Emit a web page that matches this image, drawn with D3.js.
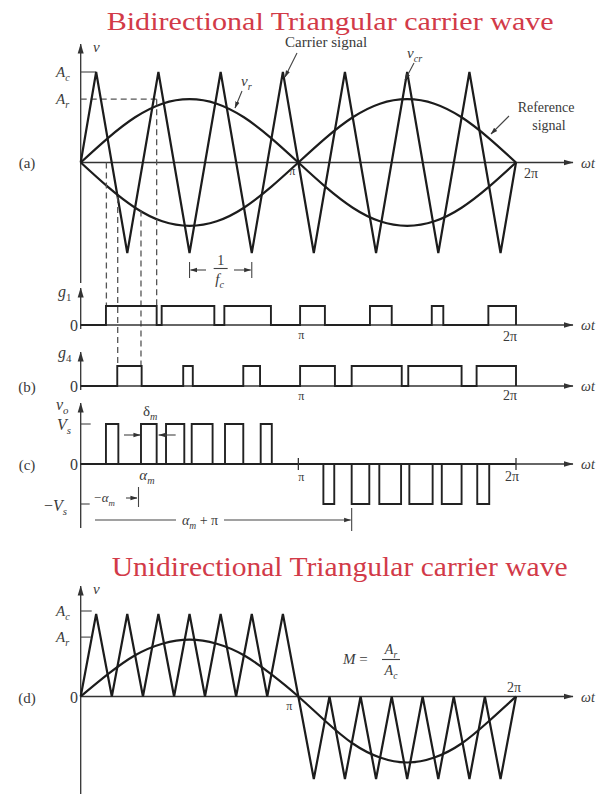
<!DOCTYPE html>
<html>
<head>
<meta charset="utf-8">
<script src="https://cdn.jsdelivr.net/npm/d3@7"></script>
<style>
body { margin: 0; background: #fff; }
text { font-family: "Liberation Serif", "DejaVu Serif", serif; fill: #3a3a3a; }
.title { fill: #d23a48; }
.wave { fill: none; stroke: #1c1c1c; stroke-width: 2.2; stroke-linejoin: miter; }
.pulse { fill: none; stroke: #222; stroke-width: 1.9; }
.axis { stroke: #333; stroke-width: 1.3; fill: none; }
.dash { stroke: #555; stroke-width: 1.3; stroke-dasharray: 6,4; fill: none; }
.thin { stroke: #444; stroke-width: 1.1; fill: none; }
</style>
</head>
<body>
<div id="chart"></div>
<script>
// all positions on the time axis are in units of pi (0 .. 2)
var piTicks = [1, 2];
var piLabels = ["\u03c0", "2\u03c0"];

// bidirectional carrier (vertices), values in units of Ac
var carrierBiT = [0, 0.071, 0.214, 0.357, 0.5, 0.643, 0.786, 0.929, 1.071, 1.214, 1.357, 1.5, 1.643, 1.786, 1.929, 2];
var carrierBiV = [0, 1, -1, 1, -1, 1, -1, 1, -1, 1, -1, 1, -1, 1, -1, 0];

// reference signal samples
var refT = [0, 0.125, 0.25, 0.375, 0.5, 0.625, 0.75, 0.875, 1, 1.125, 1.25, 1.375, 1.5, 1.625, 1.75, 1.875, 2];
var refA = [0, 0.27, 0.5, 0.65, 0.7, 0.65, 0.5, 0.27, 0, -0.27, -0.5, -0.65, -0.7, -0.65, -0.5, -0.27, 0];
var refD = [0, 0.27, 0.5, 0.64, 0.69, 0.64, 0.5, 0.27, 0, -0.3, -0.57, -0.74, -0.8, -0.74, -0.57, -0.3, 0];

// unidirectional carrier (vertices)
var carrierUniT = [0, 0.071, 0.143, 0.214, 0.286, 0.357, 0.429, 0.5, 0.571, 0.643, 0.714, 0.786, 0.857, 0.929, 1,
                   1.071, 1.143, 1.214, 1.286, 1.357, 1.429, 1.5, 1.571, 1.643, 1.714, 1.786, 1.857, 1.929, 2];
var carrierUniV = [0, 1, 0, 1, 0, 1, 0, 1, 0, 1, 0, 1, 0, 1, 0,
                   -1, 0, -1, 0, -1, 0, -1, 0, -1, 0, -1, 0, -1, 0];

// gate signals [start, end]
var g1Pulses = [[0.116, 0.349], [0.372, 0.614], [0.660, 0.874], [1.008, 1.122], [1.329, 1.429], [1.613, 1.666], [1.873, 2.0]];
var g4Pulses = [[0.168, 0.280], [0.471, 0.515], [0.747, 0.824], [1.008, 1.168], [1.245, 1.475], [1.505, 1.750], [1.819, 2.0]];

// output voltage pulses
var voPos = [[0.116, 0.173], [0.277, 0.349], [0.392, 0.476], [0.510, 0.606], [0.663, 0.747], [0.827, 0.878]];
var voNeg = [[1.115, 1.165], [1.245, 1.326], [1.372, 1.472], [1.510, 1.617], [1.659, 1.750], [1.822, 1.877]];

// dashed projection lines: time, start value on panel (a), row where it stops
var dashT = [0.118, 0.170, 0.277, 0.349];
var dashFrom = [0, -0.38, -0.53, 0.7];
var dashTo = ["g1", "g4", "g4", "g1"];

var Ar = 0.7, ArD = 0.72;

//////////////////////////////////
var svg = d3.select("#chart").append("svg").attr("width", 602).attr("height", 794);

var defs = svg.append("defs");
defs.append("marker").attr("id", "arr")
  .attr("viewBox", "0 0 10 8").attr("refX", 9.5).attr("refY", 4)
  .attr("markerWidth", 10).attr("markerHeight", 8).attr("markerUnits", "userSpaceOnUse")
  .attr("orient", "auto")
  .append("path").attr("d", "M0,1 L10,4 L0,7 z").attr("fill", "#333");
defs.append("marker").attr("id", "sarr")
  .attr("viewBox", "0 0 8 6").attr("refX", 7.5).attr("refY", 3)
  .attr("markerWidth", 7).attr("markerHeight", 6).attr("markerUnits", "userSpaceOnUse")
  .attr("orient", "auto")
  .append("path").attr("d", "M0,0.5 L8,3 L0,5.5 z").attr("fill", "#333");

var x = d3.scaleLinear().domain([0, 2]).range([80.7, 516]);
var yA = d3.scaleLinear().domain([-1, 1]).range([253, 72]);
var yG1 = d3.scaleLinear().domain([0, 1]).range([325, 306]);
var yG4 = d3.scaleLinear().domain([0, 1]).range([386, 366]);
var yVo = d3.scaleLinear().domain([-1, 1]).range([504, 424]);
var yD = d3.scaleLinear().domain([-1, 1]).range([779, 614]);
var AXIS_END = 573;

//////////////////////////////////
function label(g, px, py, parts, size, anchor) {
  size = size || 15;
  var t = g.append("text").attr("x", px).attr("y", py)
    .attr("font-size", size).attr("text-anchor", anchor || "start");
  var shift = 0;
  parts.forEach(function(p) {
    var ts = t.append("tspan").text(p.t);
    if (p.i) ts.attr("font-style", "italic");
    if (p.sub) {
      ts.attr("font-size", size * 0.68).attr("dy", 4 - shift);
      shift = 4;
    } else if (shift) {
      ts.attr("dy", -shift);
      shift = 0;
    }
  });
  return t;
}

function line(g, x1, y1, x2, y2, cls, marker) {
  var l = g.append("line").attr("x1", x1).attr("y1", y1).attr("x2", x2).attr("y2", y2).attr("class", cls);
  if (marker) l.attr("marker-end", "url(#" + marker + ")");
  return l;
}

function zip(ts, vs) {
  return ts.map(function(t, i) { return [t, vs[i]]; });
}

function hAxis(g, y0, yLab) {
  line(g, x(0), y0, AXIS_END, y0, "axis", "arr");
  label(g, 581, yLab, [{t: "\u03c9t", i: true}], 14);
}

function pulseTrain(g, pulses, y, sign) {
  var pts = [[0, 0]];
  pulses.forEach(function(p) {
    pts.push([p[0], 0], [p[0], sign], [p[1], sign], [p[1], 0]);
  });
  pts.push([2, 0]);
  g.append("path").attr("class", "pulse")
    .attr("d", d3.line().x(function(d) { return x(d[0]); }).y(function(d) { return y(d[1]); })(pts));
}

//////////////////////////////////
// titles
svg.append("text").attr("class", "title").attr("x", 106.7).attr("y", 29.5)
  .attr("font-size", 26).attr("textLength", 447).attr("lengthAdjust", "spacingAndGlyphs")
  .text("Bidirectional Triangular carrier wave");
svg.append("text").attr("class", "title").attr("x", 111.7).attr("y", 576)
  .attr("font-size", 27).attr("textLength", 456).attr("lengthAdjust", "spacingAndGlyphs")
  .text("Unidirectional Triangular carrier wave");

//////////////////////////////////
// panel (a)
var ga = svg.append("g");
line(ga, x(0), 283, x(0), 44, "axis", "arr");
hAxis(ga, yA(0), yA(0) + 5);
label(ga, 93, 52, [{t: "v", i: true}], 15);
label(ga, 27, yA(0) + 5, [{t: "(a)"}], 15, "middle");
label(ga, 56, yA(1) + 5, [{t: "A", i: true}, {t: "c", i: true, sub: true}], 15);
label(ga, 56, yA(Ar) + 5, [{t: "A", i: true}, {t: "r", i: true, sub: true}], 15);
line(ga, x(0), yA(1), x(carrierBiT[1]), yA(1), "thin");
line(ga, x(0), yA(Ar), x(dashT[3]), yA(Ar), "dash");

var lineA = d3.line().x(function(d) { return x(d[0]); }).y(function(d) { return yA(d[1]); });
ga.append("path").attr("class", "wave").attr("d", lineA(zip(carrierBiT, carrierBiV)));
ga.append("path").attr("class", "wave").attr("d", lineA.curve(d3.curveNatural)(zip(refT, refA)));
ga.append("path").attr("class", "wave").attr("d", lineA(zip(refT, refA.map(function(v) { return -v; }))));

label(ga, x(1) - 6, yA(0) + 12, [{t: piLabels[0]}], 12, "middle");
label(ga, x(2) + 8, yA(0) + 15, [{t: piLabels[1]}], 14);

// annotations
label(ga, 285, 47, [{t: "Carrier signal"}], 15);
line(ga, 297, 53, 285, 77, "thin", "sarr");
label(ga, 407, 58, [{t: "v", i: true}, {t: "cr", i: true, sub: true}], 15);
line(ga, 414, 63, 405, 80, "thin", "sarr");
label(ga, 241, 86, [{t: "v", i: true}, {t: "r", i: true, sub: true}], 15);
line(ga, 242, 91, 235, 108, "thin", "sarr");
label(ga, 546, 112, [{t: "Reference"}], 14, "middle");
label(ga, 549, 130, [{t: "signal"}], 14, "middle");
line(ga, 509, 116, 491, 134, "thin", "sarr");

// 1/fc
var t1 = x(carrierBiT[4]), t2 = x(carrierBiT[6]);
line(ga, t1, 262, t1, 278, "thin");
line(ga, t2, 262, t2, 278, "thin");
line(ga, 206, 270, t1 + 1, 270, "thin", "sarr");
line(ga, 234, 270, t2 - 1, 270, "thin", "sarr");
label(ga, (t1 + t2) / 2, 265, [{t: "1"}], 14, "middle");
line(ga, (t1 + t2) / 2 - 7, 268.5, (t1 + t2) / 2 + 7, 268.5, "thin");
label(ga, (t1 + t2) / 2 - 1, 284, [{t: "f", i: true}, {t: "c", i: true, sub: true}], 15, "middle");

// dashed projections
dashT.forEach(function(t, i) {
  var yEnd = dashTo[i] == "g1" ? yG1(1) : yG4(1);
  line(ga, x(t), yA(dashFrom[i]), x(t), yEnd, "dash");
});

//////////////////////////////////
// panel (b): gate signals
var gb = svg.append("g");
line(gb, x(0), 329, x(0), 288, "axis", "arr");
hAxis(gb, yG1(0), yG1(0) + 5);
pulseTrain(gb, g1Pulses, yG1, 1);
label(gb, 58, 297, [{t: "g", i: true}, {t: "1", sub: true}], 16);
label(gb, 70, yG1(0) + 6, [{t: "0"}], 16);
label(gb, x(1) + 3, yG1(0) + 14, [{t: piLabels[0]}], 12, "middle");
label(gb, x(2) - 6, yG1(0) + 16, [{t: piLabels[1]}], 14, "middle");

line(gb, x(0), 390, x(0), 352, "axis", "arr");
hAxis(gb, yG4(0), yG4(0) + 5);
pulseTrain(gb, g4Pulses, yG4, 1);
label(gb, 58, 358, [{t: "g", i: true}, {t: "4", sub: true}], 16);
label(gb, 70, yG4(0) + 6, [{t: "0"}], 16);
label(gb, 27, yG4(0) + 6, [{t: "(b)"}], 15, "middle");
label(gb, x(1) + 3, yG4(0) + 14, [{t: piLabels[0]}], 12, "middle");
label(gb, x(2) - 6, yG4(0) + 14, [{t: piLabels[1]}], 14, "middle");

//////////////////////////////////
// panel (c): output voltage
var gc = svg.append("g");
line(gc, x(0), 528, x(0), 403, "axis", "arr");
hAxis(gc, yVo(0), yVo(0) + 5);
pulseTrain(gc, voPos, yVo, 1);
pulseTrain(gc, voNeg, yVo, -1);
piTicks.forEach(function(t, i) {
  line(gc, x(t), yVo(0) - 6, x(t), yVo(0) + 6, "axis");
  label(gc, x(t) + (i ? -4 : 3), yVo(0) + 17, [{t: piLabels[i]}], i ? 14 : 12, "middle");
});
label(gc, 56, 410, [{t: "v", i: true}, {t: "o", i: true, sub: true}], 16);
label(gc, 57, yVo(1) + 6, [{t: "V", i: true}, {t: "s", i: true, sub: true}], 16);
line(gc, x(0), yVo(1), x(0) + 10, yVo(1), "thin");
label(gc, 70, yVo(0) + 6, [{t: "0"}], 16);
label(gc, 27, yVo(0) + 6, [{t: "(c)"}], 15, "middle");
label(gc, 44, yVo(-1) + 7, [{t: "\u2212"}, {t: "V", i: true}, {t: "s", i: true, sub: true}], 16);
line(gc, x(0), yVo(-1), x(0) + 9, yVo(-1), "thin");

// delta_m
var pw = voPos[1];
label(gc, x(pw[0]) + 2, 416, [{t: "\u03b4"}, {t: "m", i: true, sub: true}], 15);
line(gc, x(pw[0]) - 17, 435, x(pw[0]) - 1, 435, "thin", "sarr");
line(gc, x(pw[1]) + 19, 435, x(pw[1]) + 2, 435, "thin", "sarr");
label(gc, x(pw[0]) + 6, yVo(0) + 16, [{t: "\u03b1", i: true}, {t: "m", i: true, sub: true}], 15, "middle");

// -alpha_m and alpha_m + pi
label(gc, 93, 502, [{t: "\u2212\u03b1", i: true}, {t: "m", i: true, sub: true}], 13);
line(gc, 126, 498, 137, 498, "thin", "sarr");
line(gc, 138.5, 487, 138.5, 507, "thin");
var bar = x(voNeg[1][0]);
line(gc, 95, 520, bar - 1, 520, "thin", "sarr");
line(gc, bar, 508, bar, 531, "thin");
gc.append("rect").attr("x", 176).attr("y", 512).attr("width", 48).attr("height", 16).attr("fill", "#fff");
label(gc, 200, 525, [{t: "\u03b1", i: true}, {t: "m", i: true, sub: true}, {t: " + \u03c0"}], 14, "middle");

//////////////////////////////////
// panel (d): unidirectional
var gd = svg.append("g");
line(gd, x(0), 794, x(0), 586, "axis", "arr");
hAxis(gd, yD(0), yD(0) + 5);
label(gd, 93, 594, [{t: "v", i: true}], 15);
label(gd, 56, yD(1) + 2, [{t: "A", i: true}, {t: "c", i: true, sub: true}], 15);
line(gd, x(0), yD(1) - 3, x(0) + 11, yD(1) - 3, "thin");
label(gd, 56, yD(ArD) + 5, [{t: "A", i: true}, {t: "r", i: true, sub: true}], 15);
line(gd, x(0), yD(ArD), x(0) + 10, yD(ArD), "thin");
label(gd, 70, yD(0) + 6, [{t: "0"}], 16);
label(gd, 27, yD(0) + 6, [{t: "(d)"}], 15, "middle");

var lineD = d3.line().x(function(d) { return x(d[0]); }).y(function(d) { return yD(d[1]); });
gd.append("path").attr("class", "wave").attr("d", lineD(zip(carrierUniT, carrierUniV)));
gd.append("path").attr("class", "wave").attr("d", lineD.curve(d3.curveNatural)(zip(refT, refD)));

label(gd, x(1) - 9, yD(0) + 13, [{t: piLabels[0]}], 12, "middle");
label(gd, x(2) - 2, yD(0) - 5, [{t: piLabels[1]}], 14, "middle");

// M = Ar/Ac
label(gd, 343, 664, [{t: "M", i: true}, {t: " ="}], 15);
label(gd, 391, 654, [{t: "A", i: true}, {t: "r", i: true, sub: true}], 14, "middle");
line(gd, 382, 659.5, 400, 659.5, "thin");
label(gd, 391, 675, [{t: "A", i: true}, {t: "c", i: true, sub: true}], 14, "middle");
</script>
</body>
</html>
